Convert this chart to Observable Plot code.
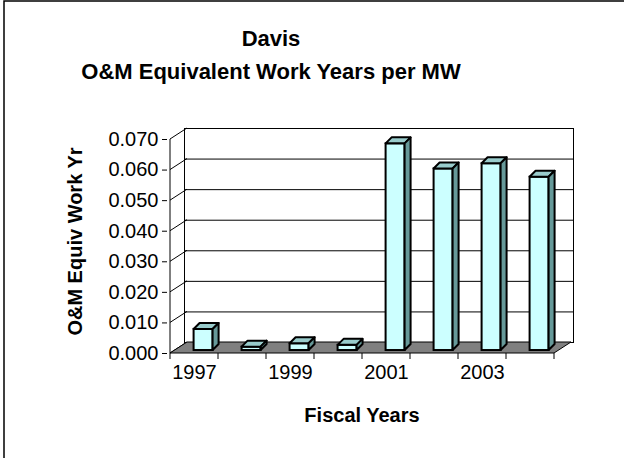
<!DOCTYPE html>
<html><head><meta charset="utf-8">
<script src="https://cdn.jsdelivr.net/npm/d3@7"></script>
<script src="https://cdn.jsdelivr.net/npm/@observablehq/plot@0.6"></script>
<style>html,body{margin:0;padding:0;background:#fff}</style>
</head><body><div id="chart"></div>
<script>
// ---- data ----
const titleLine1 = "Davis";
const titleLine2 = "O&M Equivalent Work Years per MW";
const years = ["1997","1998","1999","2000","2001","2002","2003","2004"];
const values = [0.0069, 0.0011, 0.0022, 0.0017, 0.0676, 0.0594, 0.0611, 0.0567];
const yTicks = [0, 0.01, 0.02, 0.03, 0.04, 0.05, 0.06, 0.07];
const xLabels = ["1997","1999","2001","2003"];
const yTitle = "O&M Equiv Work Yr";
const xTitle = "Fiscal Years";

const data = years.map((year, i) => ({year, value: values[i]}));

// ---- layout / style ----
const W = 624, H = 458;
const DX = 17, DY = -11;            // depth of walls/floor
const BPOS = 0.27;                  // bar front position within depth
const BDX = 6, BDY = -6;            // bar depth
const font = "Arial, 'Liberation Sans', sans-serif";
const centered = {textAnchor: "middle", lineAnchor: "middle", fontWeight: "bold"};

const chart = Plot.plot({
  width: W, height: H,
  marginLeft: 167, marginRight: 68, marginTop: 139, marginBottom: 105,
  style: {fontFamily: font, fontSize: "20px", color: "#000", background: "#fff", overflow: "visible"},
  x: {type: "band", domain: years, padding: 0},
  y: {domain: [0, 0.07]},
  marks: [
    Plot.frame({dx: DX, dy: DY, stroke: "#000", strokeWidth: 1, fill: "#fff"}),
    Plot.ruleY(yTicks, {dx: DX, dy: DY, stroke: "#000", strokeWidth: 1}),
    Plot.barY(data, {x: "year", y: "value", fill: "#ccffff", stroke: "#000", strokeWidth: 2,
      insetLeft: 19, insetRight: 10, dx: DX * BPOS, dy: DY * BPOS}),
    Plot.axisY(yTicks, {tickFormat: d3.format(".3f"), tickSize: 5, tickPadding: 4, fontSize: 20, label: null}),
    Plot.axisX(xLabels, {tickSize: 0, tickPadding: 11, fontSize: 20, label: null}),
    Plot.text([yTitle], {...centered, frameAnchor: "left", rotate: -90, dx: -92, dy: -5, fontSize: 20}),
    Plot.text([xTitle], {...centered, frameAnchor: "bottom", dy: 62, fontSize: 20}),
    Plot.text([titleLine1], {...centered, frameAnchor: "top", dx: -91, dy: -101, fontSize: 22}),
    Plot.text([titleLine2], {...centered, frameAnchor: "top", dx: -91, dy: -68, fontSize: 22})
  ]
});
document.getElementById("chart").appendChild(chart);

// ---- 3D decorations computed from Plot's scales ----
const sx = chart.scale("x"), sy = chart.scale("y");
const bw = sx.bandwidth;
const x0 = sx.apply(years[0]);
const x1 = sx.apply(years[years.length - 1]) + bw;
const y0 = sy.apply(0);
const svg = d3.select(chart);
const barGroup = chart.querySelector('g[aria-label="bar"]');

const under = d3.create("svg:g").attr("stroke", "#000").attr("stroke-linejoin", "round");
// side wall diagonals
under.selectAll("line.d").data(yTicks).join("line")
  .attr("x1", x0).attr("y1", d => sy.apply(d))
  .attr("x2", x0 + DX).attr("y2", d => sy.apply(d) + DY)
  .attr("stroke-width", 1);
// floor
under.append("polygon")
  .attr("points", [[x0, y0], [x1, y0], [x1 + DX, y0 + DY], [x0 + DX, y0 + DY]].join(" "))
  .attr("fill", "#808080").attr("stroke-width", 1);
// front vertical axis line
under.append("line").attr("x1", x0).attr("x2", x0)
  .attr("y1", y0).attr("y2", sy.apply(yTicks[yTicks.length - 1])).attr("stroke-width", 1);
// x tick marks at category boundaries
under.selectAll("line.t").data(years.concat(["end"])).join("line")
  .attr("x1", (d, i) => x0 + i * bw).attr("x2", (d, i) => x0 + i * bw)
  .attr("y1", y0).attr("y2", y0 + 6).attr("stroke-width", 1);
chart.insertBefore(under.node(), barGroup);

const over = d3.create("svg:g").attr("stroke", "#000").attr("stroke-width", 2).attr("stroke-linejoin", "round");
data.forEach(d => {
  const bx0 = sx.apply(d.year) + 19 + DX * BPOS;
  const bx1 = sx.apply(d.year) + bw - 10 + DX * BPOS;
  const bt = sy.apply(d.value) + DY * BPOS;
  const bb = y0 + DY * BPOS;
  over.append("polygon")
    .attr("points", [[bx0, bt], [bx1, bt], [bx1 + BDX, bt + BDY], [bx0 + BDX, bt + BDY]].join(" "))
    .attr("fill", "#99cccc");
  over.append("polygon")
    .attr("points", [[bx1, bt], [bx1 + BDX, bt + BDY], [bx1 + BDX, bb + BDY], [bx1, bb]].join(" "))
    .attr("fill", "#669999");
});
barGroup.parentNode.insertBefore(over.node(), barGroup.nextSibling);

// chart border (left and top edges visible)
svg.append("path").attr("d", `M4,${H}V1H${W}`).attr("fill", "none").attr("stroke", "#000").attr("stroke-width", 1.5);
</script>
</body></html>
